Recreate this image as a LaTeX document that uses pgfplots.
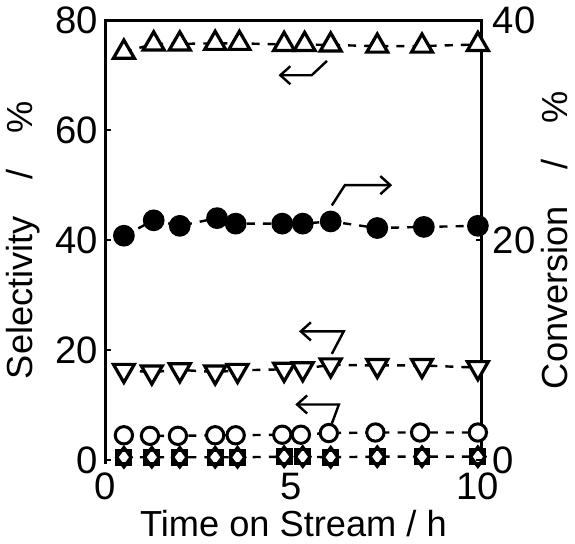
\documentclass[border=0pt]{standalone}
\usepackage{pgfplots}
\pgfplotsset{compat=1.18}
\usepackage{fontspec}
\setmainfont{Liberation Sans}
\usetikzlibrary{arrows.meta}
\begin{document}
\begin{tikzpicture}
\pgfplotsset{
  common/.style={
    scale only axis, width=187pt, height=218.5pt,
    xmin=0, xmax=10.1,
    axis line style={draw=none},
    tick style={line width=1.2pt, black},
    major tick length=3pt, tick align=inside,
    font=\fontsize{18}{20}\selectfont,
    tick label style={font=\fontsize{19}{21}\selectfont},
    /pgf/number format/assume math mode=true,
    clip=false,
  },
  dl/.style={black, line width=1.2pt, dash pattern=on 4pt off 4pt},
}
\begin{axis}[common,
  ymin=0, ymax=80,
  xtick={0,5,10}, ytick={0,20,40,60,80},
  xtick style={draw=none},
  ytick pos=left, xtick pos=bottom,
  xticklabel style={yshift=-3pt},
  xlabel={Time on Stream / h},
  ylabel={Selectivity\quad /\quad \%},
  every axis x label/.style={at={(axis description cs:0.5,-0.144)}, anchor=center},
  every axis y label/.style={at={(axis description cs:-0.217,0.5)}, rotate=90, anchor=center},
]
\draw[line width=1.5pt] (rel axis cs:0,-0.01) -- (rel axis cs:0,1) -- (rel axis cs:1,1) -- (rel axis cs:1,0.02);
% triangles up
\addplot[dl, mark=triangle*, mark size=6pt, mark options={solid, fill=white, line width=1.6pt}] coordinates {
(0.5,74.2) (1.3,75.7) (2.0,75.7) (2.95,75.8) (3.6,75.8) (4.8,75.6) (5.35,75.6) (6.05,75.5) (7.3,75.3) (8.5,75.3) (10,75.6)};
% triangles down
\addplot[dl, mark=triangle*, mark size=6pt, mark options={solid, fill=white, rotate=180, line width=1.6pt}] coordinates {
(0.5,16.3) (1.25,16.0) (2.0,16.4) (2.95,16.0) (3.55,16.3) (4.8,16.5) (5.3,16.6) (6.05,17.3) (7.3,17.2) (8.5,17.2) (10,16.8)};
% open circles
\addplot[dl, mark=*, mark size=4.3pt, mark options={solid, fill=white, line width=1.5pt}] coordinates {
(0.5,4.5) (1.2,4.4) (1.95,4.4) (2.95,4.5) (3.5,4.5) (4.75,4.6) (5.25,4.6) (6.0,4.9) (7.25,5.0) (8.45,5.0) (10,5.0)};
% squares
\addplot[dl, mark=square*, mark size=3.4pt, mark options={solid, fill=white, line width=1.6pt}] coordinates {
(0.5,0.5) (1.25,0.5) (2.0,0.5) (2.95,0.5) (3.55,0.5) (4.8,0.6) (5.3,0.6) (6.05,0.5) (7.3,0.6) (8.5,0.6) (10,0.6)};
% diamonds
\addplot[black, only marks, mark=diamond, mark size=4.8pt, mark options={solid, line width=1.6pt}] coordinates {
(0.5,0.5) (1.25,0.5) (2.0,0.5) (2.95,0.5) (3.55,0.5) (4.8,0.6) (5.3,0.6) (6.05,0.5) (7.3,0.6) (8.5,0.6) (10,0.6)};
% arrows
\draw[line width=1.2pt, -{Straight Barb[length=5pt,width=9pt]}] (axis cs:5.95,72.6) -- (axis cs:5.54,70.0) -- (axis cs:4.65,70.0);
\draw[line width=1.2pt, -{Straight Barb[length=5pt,width=9pt]}] (axis cs:6.08,46.3) -- (axis cs:6.43,50.0) -- (axis cs:7.7,50.0);
\draw[line width=1.2pt, -{Straight Barb[length=5pt,width=9pt]}] (axis cs:6.08,19.3) -- (axis cs:6.4,23.4) -- (axis cs:5.2,23.4);
\draw[line width=1.2pt, -{Straight Barb[length=5pt,width=9pt]}] (axis cs:6.08,6.6) -- (axis cs:6.27,10.1) -- (axis cs:5.1,10.1);
\end{axis}
\begin{axis}[common,
  ymin=0, ymax=40,
  hide x axis,
  axis y line*=right,
  ytick={0,20,40},
  yticklabel style={xshift=2pt},
  ylabel={Conversion\quad /\quad \%},
  every axis y label/.style={at={(axis description cs:1.195,0.5)}, rotate=90, anchor=center},
]
\addplot[dl, mark=*, mark size=4.8pt, mark options={solid}] coordinates {
(0.5,20.4) (1.3,21.8) (2.0,21.3) (3.0,22.0) (3.5,21.5) (4.75,21.5) (5.3,21.5) (6.05,21.7) (7.3,21.1) (8.55,21.2) (10,21.3)};
\end{axis}
\end{tikzpicture}
\end{document}
